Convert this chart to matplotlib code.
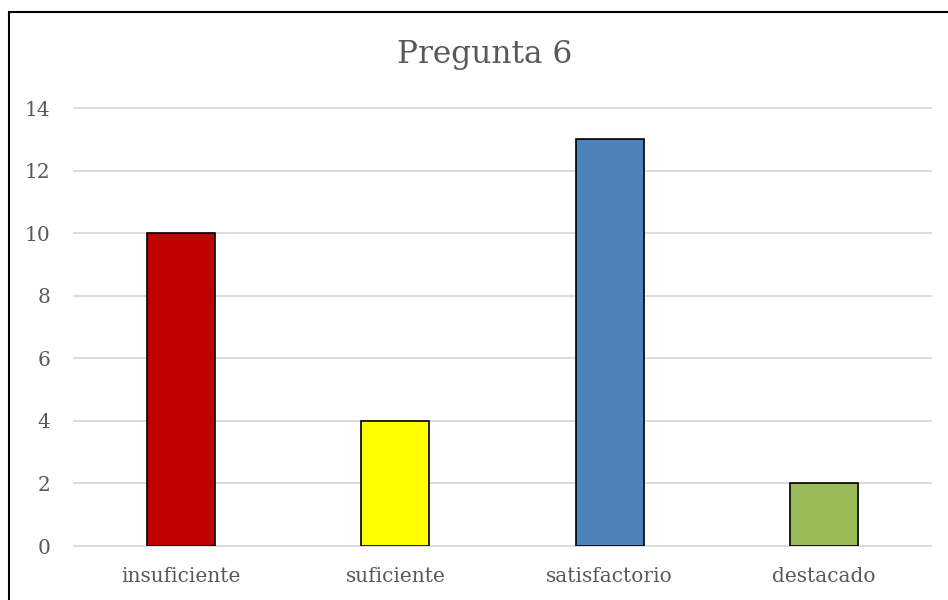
import matplotlib.pyplot as plt
from matplotlib.patches import Rectangle

# datos de la pregunta 6
categorias = ['insuficiente', 'suficiente', 'satisfactorio', 'destacado']
respuestas = [10, 4, 13, 2]
colores = ['#C00000', '#FFFF00', '#4F81BD', '#9BBB59']
yticks = [0, 2, 4, 6, 8, 10, 12, 14]

plt.rcParams['font.family'] = ['DejaVu Serif']
gris = '#595959'

fig = plt.figure(figsize=(9.48, 6), dpi=100)
ax = fig.add_axes([74 / 948, 1 - 546 / 600, (931 - 74) / 948, (546 - 108) / 600])

x = range(len(categorias))
ax.bar(x, respuestas, width=0.318, color=colores, edgecolor='black', linewidth=1.2, zorder=3)

ax.set_xlim(-0.5, len(categorias) - 0.5)
ax.set_ylim(0, 14)
ax.set_yticks(yticks)
ax.set_xticks(list(x))
ax.set_xticklabels(categorias)
ax.tick_params(axis='both', length=0, colors=gris, labelsize=14.5)
ax.tick_params(axis='x', pad=15)
ax.tick_params(axis='y', pad=17)

ax.grid(axis='y', color='#d9d9d9', linewidth=1.3, zorder=0)
for gl in ax.get_ygridlines():
    gl.set_clip_on(False)
for s in ax.spines.values():
    s.set_visible(False)

fig.text(485 / 948, 1 - 55 / 600, 'Pregunta 6', ha='center', va='center', fontsize=22.5, color=gris)

# marco del gráfico
fig.patches.append(Rectangle((8.5 / 948, -0.1), 1.2, 1.1 - 12 / 600, transform=fig.transFigure,
                             fill=False, edgecolor='black', linewidth=1.5))

fig.savefig('out.png', dpi=100)
